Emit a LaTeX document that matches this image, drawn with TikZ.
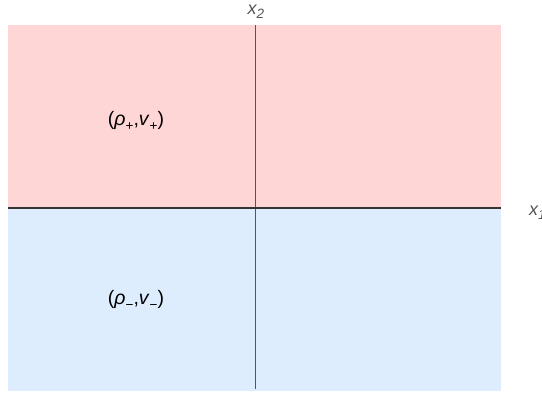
\documentclass[tikz,border=0pt]{standalone}
\usepackage{fontspec}
\setmainfont{Liberation Sans}
\definecolor{pinkreg}{HTML}{FFD6D6}
\definecolor{bluereg}{HTML}{DDEDFE}
\definecolor{axisgray}{HTML}{555555}
\definecolor{labgray}{HTML}{555555}
\newcommand{\mysub}[1]{\raisebox{-0.22em}{\fontsize{13.5}{14}\selectfont #1}}
\begin{document}
\begin{tikzpicture}[x=1pt,y=-1pt,
  lab/.style={font=\fontsize{19.5}{21}\selectfont, inner sep=0pt},
  axlab/.style={font=\fontsize{18}{20}\selectfont, text=labgray, inner sep=0pt}]
\useasboundingbox (0,0) rectangle (542,394);
\fill[pinkreg] (8,25) rectangle (501,208);
\fill[bluereg] (8,208) rectangle (501,391);
\coordinate (vtop) at (255,25);
\coordinate (vbot) at (255,389);
\coordinate (hl) at (8,208);
\coordinate (hr) at (501,208);
\draw[axisgray, line width=0.9pt] (vtop) -- (vbot);
\draw[black!80, line width=2pt] (hl) -- (hr);
\node[axlab] (x2) at (256,12) {\itshape x\mysub{2}};
\node[axlab, anchor=west] (x1) at (529,213) {\itshape x\mysub{1}};
\node[lab] (plus) at (136,121) {(\textit{ρ}\mysub{+},\textit{v}\mysub{+})};
\node[lab] (minus) at (136,300) {(\textit{ρ}\mysub{−},\textit{v}\mysub{−})};
\end{tikzpicture}
\end{document}
